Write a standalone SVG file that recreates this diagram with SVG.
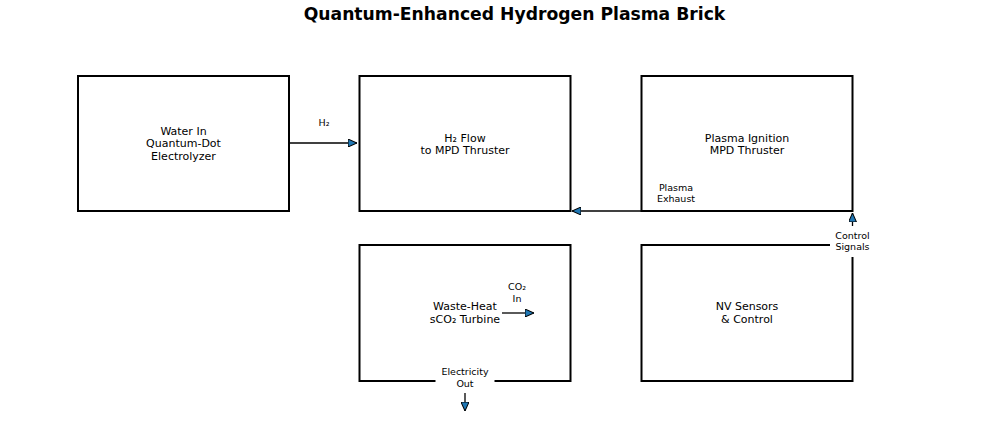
<svg xmlns="http://www.w3.org/2000/svg" width="1000" height="422" viewBox="0 0 1000 422">
<style>
.box{fill:#fff;stroke:#000;stroke-width:2}
.lbl{font-family:"DejaVu Sans",sans-serif;font-size:11px;fill:#000;text-anchor:middle}
.el{font-family:"DejaVu Sans",sans-serif;font-size:9.5px;fill:#000;text-anchor:middle}
.ln{stroke:#000;stroke-width:1.3;fill:none}
.title{font-family:"DejaVu Sans",sans-serif;font-size:17.2px;font-weight:bold;text-anchor:middle}
</style>
<defs>
<marker id="ah" viewBox="0 0 10 10" refX="10" refY="5" markerWidth="9" markerHeight="8" markerUnits="userSpaceOnUse" orient="auto" preserveAspectRatio="none">
<path d="M0,0 L10,5 L0,10 Z" fill="#1f77b4" stroke="#000" stroke-width="1.2"/>
</marker>
</defs>
<rect width="1000" height="422" fill="#fff"/>
<text class="title" x="514.5" y="19.5">Quantum-Enhanced Hydrogen Plasma Brick</text>
<g id="n1"><rect class="box" x="78" y="76" width="211" height="135"/><text class="lbl" x="183.5" y="134.5">Water In</text><text class="lbl" x="183.5" y="147">Quantum-Dot</text><text class="lbl" x="183.5" y="159.5">Electrolyzer</text></g>
<g id="n2"><rect class="box" x="359.5" y="76" width="211" height="135"/><text class="lbl" x="465" y="141.5">H₂ Flow</text><text class="lbl" x="465" y="154">to MPD Thruster</text></g>
<g id="n3"><rect class="box" x="641.5" y="76" width="211" height="135"/><text class="lbl" x="747" y="141.5">Plasma Ignition</text><text class="lbl" x="747" y="154">MPD Thruster</text></g>
<g id="n4"><rect class="box" x="359.5" y="245" width="211" height="136"/><text class="lbl" x="465" y="310">Waste-Heat</text><text class="lbl" x="465" y="322.5">sCO₂ Turbine</text></g>
<g id="n5"><rect class="box" x="641.5" y="245" width="211" height="136"/><text class="lbl" x="747" y="310">NV Sensors</text><text class="lbl" x="747" y="322.5">&amp; Control</text></g>
<g id="edges">
<line class="ln" x1="290" y1="143" x2="357" y2="143" marker-end="url(#ah)"/>
<text class="el" x="324" y="126">H₂</text>
<line class="ln" x1="641" y1="211" x2="572" y2="211" marker-end="url(#ah)"/>
<text class="el" x="676" y="190.5">Plasma</text><text class="el" x="676" y="201.5">Exhaust</text>
<line class="ln" x1="852.5" y1="226" x2="852.5" y2="213" marker-end="url(#ah)"/>
<rect x="830" y="229" width="45" height="28" fill="#fff"/>
<text class="el" x="852.5" y="238.5">Control</text><text class="el" x="852.5" y="250">Signals</text>
<line class="ln" x1="502" y1="313" x2="534" y2="313" marker-end="url(#ah)"/>
<text class="el" x="517" y="290">CO₂</text><text class="el" x="517" y="301.5">In</text>
<rect x="435.5" y="366" width="59" height="22" fill="#fff"/>
<text class="el" x="465" y="375">Electricity</text><text class="el" x="465" y="386.5">Out</text>
<line class="ln" x1="465" y1="393" x2="465" y2="411" marker-end="url(#ah)"/>
</g>
</svg>
